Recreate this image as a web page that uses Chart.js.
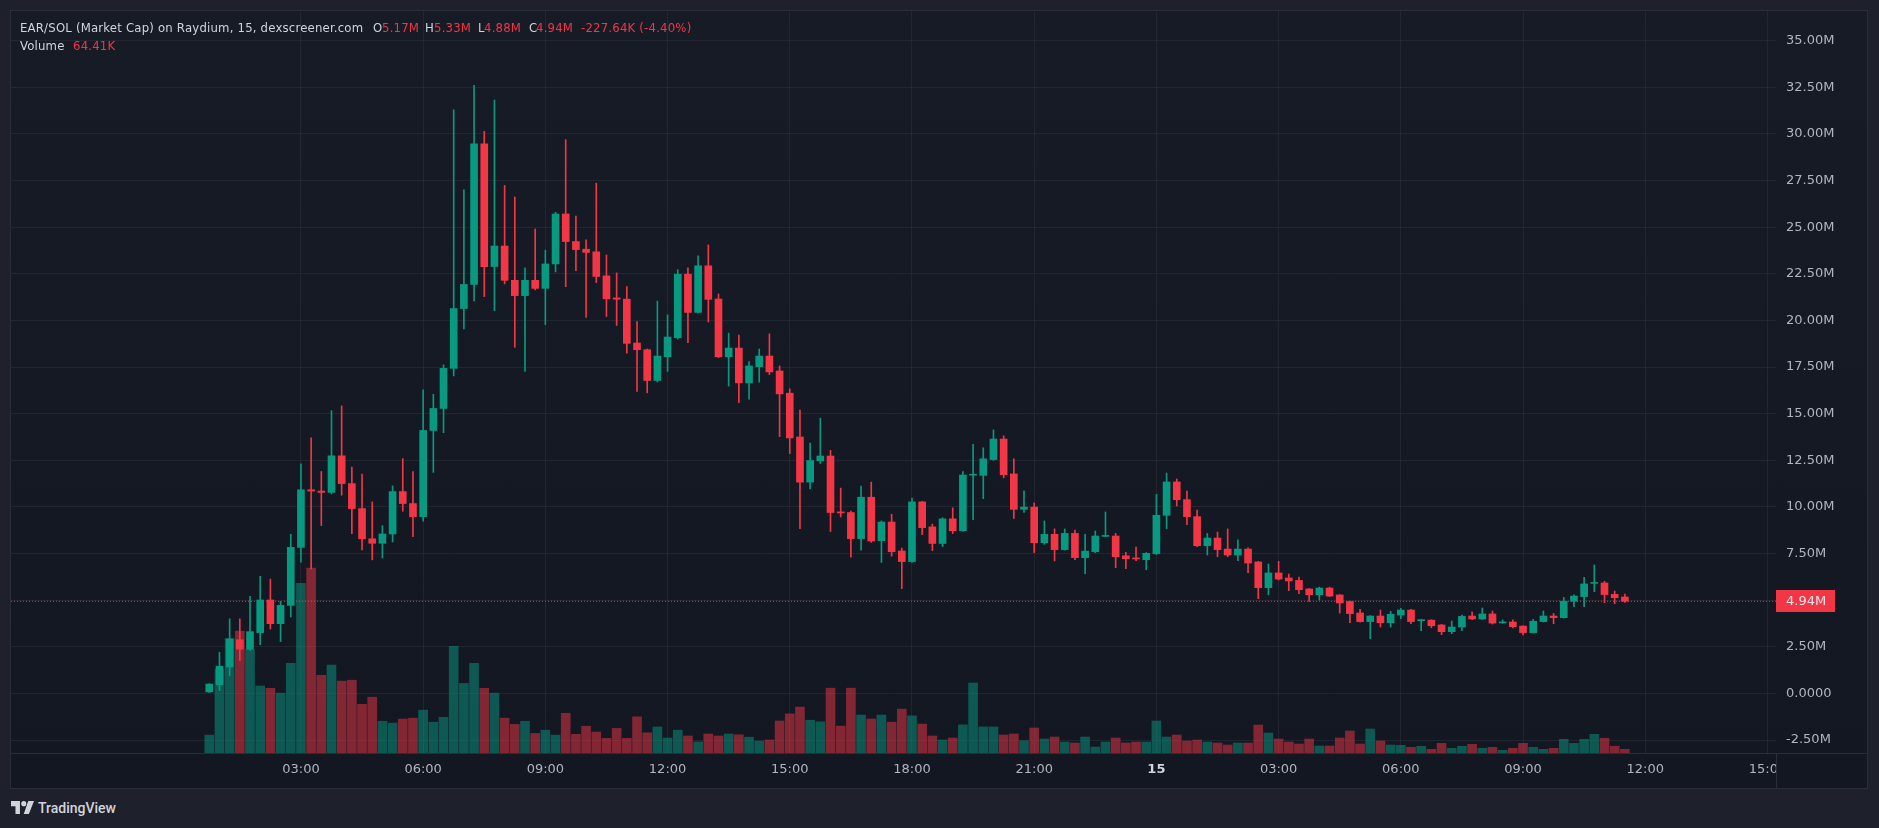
<!DOCTYPE html>
<html>
<head>
<meta charset="utf-8">
<script src="https://cdn.jsdelivr.net/npm/chart.js@4.4.1/dist/chart.umd.min.js"></script>
<style>
  html, body { margin: 0; padding: 0; width: 1879px; height: 828px; overflow: hidden; background: #1e212b; }
  #box { position: absolute; left: 10px; top: 10px; width: 1856px; height: 777px; border: 1px solid #2a2e39;
         background: linear-gradient(#171b26, #131722); }
  #box canvas { position: absolute; left: 0; top: 0; }
  .hdr { position: absolute; font-family: "DejaVu Sans Condensed", "DejaVu Sans", sans-serif; font-size: 13px;
         color: #d1d4dc; white-space: nowrap; line-height: 16px; z-index: 2; letter-spacing: 0.2px; }
  .red { color: #f23645; }
  #logo { position: absolute; left: 11px; top: 801px; }
  #logoText { position: absolute; left: 38px; top: 799px; font-family: Roboto, sans-serif; font-weight: 500;
              font-size: 14px; color: #d1d4dc; line-height: 18px; }
</style>
</head>
<body>
<div id="box"><canvas id="chart" width="1856" height="777"></canvas></div>

<div class="hdr" style="left:20px;top:20px">EAR/SOL (Market Cap) on Raydium, 15, dexscreener.com</div>
<div class="hdr" style="left:373px;top:20px">O</div><div class="hdr red" style="left:382px;top:20px">5.17M</div>
<div class="hdr" style="left:425px;top:20px">H</div><div class="hdr red" style="left:434px;top:20px">5.33M</div>
<div class="hdr" style="left:478px;top:20px">L</div><div class="hdr red" style="left:484px;top:20px">4.88M</div>
<div class="hdr" style="left:529px;top:20px">C</div><div class="hdr red" style="left:536px;top:20px">4.94M</div>
<div class="hdr red" style="left:581px;top:20px">-227.64K (-4.40%)</div>
<div class="hdr" style="left:20px;top:38px">Volume</div><div class="hdr red" style="left:73px;top:38px">64.41K</div>

<svg id="logo" width="23" height="13" viewBox="0 0 36 20">
  <path d="M14 20H7V8H0V0h14z" fill="#d1d4dc"/>
  <circle cx="20" cy="4" r="4" fill="#d1d4dc"/>
  <path d="M27 0h9l-8 20h-8z" fill="#d1d4dc"/>
</svg>
<div id="logoText">TradingView</div>

<script>
// 15 min candles, index 0 = 00:45 on day one (market cap in millions)
const opens = [
  0.08, 0.46, 1.42, 2.88, 2.37, 3.26, 5.01, 3.74, 4.72, 7.83,
  10.92, 10.85, 10.78, 12.74, 11.25, 9.91, 8.29, 8.05, 8.55, 10.82,
  10.18, 9.48, 14.10, 15.28, 17.43, 20.64, 21.93, 29.47, 22.89, 23.99,
  22.15, 21.33, 22.15, 21.72, 23.03, 25.71, 24.23, 23.82, 23.68, 22.39,
  21.21, 21.14, 18.79, 18.43, 16.78, 18.05, 19.07, 22.48, 20.43, 22.93,
  21.15, 18.05, 18.52, 16.65, 17.52, 18.09, 17.29, 16.10, 13.75, 11.33,
  12.47, 12.73, 9.72, 9.70, 8.30, 10.52, 8.19, 9.19, 7.64, 7.07,
  10.27, 8.93, 8.04, 9.36, 8.72, 11.70, 11.69, 12.54, 13.64, 11.77,
  9.87, 9.99, 8.08, 8.53, 7.71, 8.58, 7.28, 7.60, 8.42, 8.44,
  7.38, 7.26, 7.17, 7.49, 9.55, 11.34, 10.39, 9.48, 7.92, 8.33,
  7.74, 7.42, 7.74, 7.05, 5.67, 6.46, 6.19, 6.06, 5.60, 5.29,
  5.65, 5.28, 4.93, 4.31, 3.85, 4.15, 3.79, 4.20, 4.47, 3.90,
  3.93, 3.67, 3.31, 3.56, 4.15, 3.99, 4.26, 3.78, 3.83, 3.61,
  3.26, 3.85, 4.15, 4.06, 4.94, 5.19, 5.90, 5.92, 5.31, 5.17
];
const highs = [
  0.52, 2.20, 4.00, 4.00, 5.20, 6.28, 6.13, 4.93, 8.53, 12.31,
  13.70, 11.90, 15.16, 15.42, 12.14, 11.76, 10.27, 9.00, 11.13, 12.59,
  11.90, 16.28, 16.04, 17.62, 31.29, 27.01, 32.61, 30.14, 31.82, 27.24,
  26.62, 22.82, 24.90, 23.77, 25.80, 29.69, 25.59, 24.32, 27.36, 23.51,
  22.55, 21.81, 19.94, 18.47, 21.04, 20.30, 22.72, 22.82, 23.46, 24.05,
  21.42, 19.32, 19.22, 17.80, 18.47, 19.28, 17.56, 16.33, 15.19, 13.43,
  14.76, 13.03, 11.01, 9.78, 11.12, 11.33, 9.25, 9.61, 7.79, 10.48,
  10.30, 9.08, 9.42, 9.95, 11.90, 13.36, 13.17, 14.13, 13.81, 12.58,
  10.86, 10.21, 9.25, 8.82, 8.82, 8.76, 8.53, 8.71, 9.73, 8.58,
  7.56, 7.85, 7.55, 10.67, 11.82, 11.50, 10.85, 9.83, 8.58, 8.65,
  8.82, 8.24, 7.81, 7.08, 6.94, 7.08, 6.40, 6.24, 5.62, 5.70,
  5.70, 5.30, 4.95, 4.51, 4.17, 4.47, 4.40, 4.56, 4.51, 3.97,
  3.95, 3.70, 3.88, 4.20, 4.37, 4.58, 4.42, 3.94, 3.94, 3.63,
  3.97, 4.42, 4.29, 5.15, 5.28, 6.22, 6.89, 6.01, 5.49, 5.33
];
const lows = [
  0.05, 0.15, 0.94, 1.77, 2.30, 2.61, 3.45, 2.78, 4.10, 7.04,
  6.68, 9.00, 10.70, 10.63, 8.57, 7.69, 7.16, 7.26, 8.12, 9.77,
  8.41, 9.24, 11.85, 13.98, 17.02, 19.54, 21.05, 21.28, 20.52, 21.96,
  18.56, 17.26, 21.64, 19.78, 22.60, 21.81, 22.67, 20.16, 22.03, 20.21,
  19.73, 18.24, 16.19, 16.12, 16.70, 17.27, 19.00, 18.81, 20.40, 19.92,
  18.00, 16.48, 15.59, 15.78, 16.69, 17.10, 13.77, 12.86, 8.83, 10.97,
  12.33, 8.68, 9.46, 7.30, 7.68, 8.10, 7.02, 7.36, 5.62, 7.02,
  8.51, 7.66, 7.87, 8.57, 8.70, 9.31, 10.44, 12.50, 11.56, 9.38,
  9.70, 7.55, 8.00, 7.10, 7.68, 7.17, 6.42, 7.55, 8.40, 6.74,
  6.69, 7.12, 6.63, 7.45, 8.83, 10.05, 9.05, 7.87, 7.42, 7.33,
  7.33, 7.12, 6.47, 5.08, 5.29, 6.08, 5.51, 5.35, 4.93, 5.01,
  5.19, 4.31, 3.79, 3.82, 2.93, 3.56, 3.56, 4.01, 3.74, 3.36,
  3.52, 3.15, 3.20, 3.36, 3.95, 3.97, 3.72, 3.76, 3.51, 3.13,
  3.24, 3.83, 3.74, 4.04, 4.65, 4.65, 5.46, 4.87, 4.81, 4.88
];
const closes = [
  0.50, 1.46, 2.90, 2.37, 3.31, 5.01, 3.74, 4.72, 7.83, 10.92,
  10.85, 10.78, 12.74, 11.25, 9.91, 8.29, 8.05, 8.55, 10.82, 10.18,
  9.48, 14.10, 15.28, 17.43, 20.64, 21.93, 29.47, 22.89, 23.99, 22.15,
  21.33, 22.15, 21.72, 23.03, 25.71, 24.23, 23.80, 23.65, 22.36, 21.16,
  21.14, 18.77, 18.43, 16.78, 18.09, 19.11, 22.48, 20.43, 22.93, 21.13,
  18.05, 18.52, 16.65, 17.56, 18.09, 17.24, 16.06, 13.70, 11.33, 12.49,
  12.73, 9.70, 9.68, 8.30, 10.52, 8.17, 9.19, 7.60, 7.07, 10.27,
  8.89, 8.04, 9.36, 8.72, 11.71, 11.74, 12.58, 13.64, 11.73, 9.87,
  9.99, 8.08, 8.53, 7.71, 8.58, 7.28, 7.63, 8.44, 8.46, 7.33,
  7.22, 7.21, 7.51, 9.55, 11.34, 10.39, 9.48, 7.92, 8.33, 7.71,
  7.42, 7.74, 6.99, 5.67, 6.46, 6.13, 6.03, 5.56, 5.29, 5.65,
  5.22, 4.85, 4.28, 3.85, 4.15, 3.79, 4.24, 4.47, 3.85, 3.94,
  3.63, 3.31, 3.56, 4.13, 3.99, 4.26, 3.77, 3.83, 3.58, 3.26,
  3.87, 4.15, 4.06, 4.94, 5.22, 5.87, 5.94, 5.30, 5.13, 4.94
];
// volume in thousands
const volumes = [
  311, 1453, 1996, 2121, 1803, 1166, 1126, 1041, 1561, 2951,
  3216, 1352, 1529, 1251, 1267, 847, 971, 552, 520, 590,
  606, 746, 536, 621, 1857, 1211, 1561, 1126, 1041, 606,
  498, 552, 341, 397, 311, 691, 325, 466, 365, 256,
  428, 256, 630, 351, 454, 261, 398, 296, 193, 331,
  296, 331, 317, 275, 207, 226, 557, 680, 799, 571,
  543, 1128, 468, 1128, 661, 592, 661, 536, 764, 647,
  503, 296, 226, 261, 489, 1218, 454, 454, 313, 331,
  214, 435, 244, 278, 191, 174, 278, 104, 191, 261,
  174, 191, 191, 557, 278, 313, 209, 226, 191, 174,
  139, 174, 174, 487, 348, 244, 191, 157, 244, 122,
  122, 261, 383, 157, 418, 209, 139, 134, 99, 117,
  64, 169, 82, 117, 151, 82, 99, 47, 82, 169,
  99, 64, 82, 238, 169, 238, 325, 256, 117, 64.41
];

const priceTicks = [-2.5, 0, 2.5, 5, 7.5, 10, 12.5, 15, 17.5, 20, 22.5, 25, 27.5, 30, 32.5, 35];
const timeTickPos = [9, 21, 33, 45, 57, 69, 81, 93, 105, 117, 129, 141, 153];
const timeTickLabels = ["03:00", "06:00", "09:00", "12:00", "15:00", "18:00", "21:00", "15", "03:00", "06:00", "09:00", "12:00", "15:00"];
const lastPrice = 4.94;

const UP = "#089981";
const DOWN = "#f23645";
const GRID = "rgba(42, 46, 57, 0.6)";
const TEXT = "#b2b5be";

const xMin = -19.47, xMax = 153.84;

let upFlags = closes.map((c, i) => c >= opens[i]);
let candleColors = upFlags.map(u => u ? UP : DOWN);
let volColors = upFlags.map(u => u ? "rgba(8, 153, 129, 0.5)" : "rgba(242, 54, 69, 0.5)");

let bodies = opens.map((o, i) => ({ x: i, y: [o, closes[i]] }));
let wicks = lows.map((l, i) => ({ x: i, y: [l, highs[i]] }));
let vols = volumes.map((v, i) => ({ x: i, y: v }));

function priceLabel(v) {
    if (v === 0) return "0.0000";
    if (v === 5) return "";
    return v.toFixed(2) + "M";
}

const overlay = {
    id: "overlay",
    afterDraw(chart) {
        const ctx = chart.ctx;
        const area = chart.chartArea;
        const w = chart.width, h = chart.height;
        ctx.save();
        // cut the time labels off under the price scale
        ctx.clearRect(area.right + 0.5, area.bottom + 1, w - area.right, h - area.bottom);
        ctx.fillStyle = "#2a2e39";
        ctx.fillRect(0, Math.round(area.bottom), w, 1);
        ctx.fillRect(Math.round(area.right), Math.round(area.bottom), 1, h - area.bottom);

        // last price tag
        const y = chart.scales.y.getPixelForValue(lastPrice);
        ctx.fillStyle = DOWN;
        ctx.fillRect(area.right, Math.round(y) - 11, 59, 22);
        ctx.fillStyle = "#e6e7ea";
        ctx.font = "13px 'DejaVu Sans'";
        ctx.textBaseline = "middle";
        ctx.textAlign = "left";
        ctx.fillText(lastPrice.toFixed(2) + "M", area.right + 10, Math.round(y) + 0.5);
        ctx.restore();
    }
};

const chart = new Chart(document.getElementById("chart").getContext("2d"), {
    type: "bar",
    data: {
        datasets: [
            {
                label: "body",
                data: bodies,
                backgroundColor: candleColors,
                barThickness: 7,
                minBarLength: 1,
                grouped: false,
                order: 0
            },
            {
                label: "wick",
                data: wicks,
                backgroundColor: candleColors,
                barThickness: 1,
                grouped: false,
                order: 1
            },
            {
                type: "line",
                label: "last",
                data: [{ x: xMin, y: lastPrice }, { x: xMax, y: lastPrice }],
                borderColor: DOWN,
                borderWidth: 1,
                borderDash: [1, 2],
                pointRadius: 0,
                order: 2
            },
            {
                label: "volume",
                data: vols,
                yAxisID: "v",
                backgroundColor: volColors,
                barThickness: 9,
                grouped: false,
                order: 3
            }
        ]
    },
    options: {
        responsive: false,
        maintainAspectRatio: false,
        animation: false,
        events: [],
        layout: { padding: 0 },
        plugins: {
            legend: { display: false },
            tooltip: { enabled: false }
        },
        scales: {
            x: {
                type: "linear",
                min: xMin,
                max: xMax,
                offset: false,
                afterBuildTicks: s => { s.ticks = timeTickPos.map(v => ({ value: v })); },
                afterFit: s => { s.height = 35; s.paddingLeft = 0; s.paddingRight = 0; },
                grid: { color: GRID, drawTicks: false, offset: false },
                border: { display: false },
                ticks: {
                    autoSkip: false,
                    maxRotation: 0,
                    padding: 9,
                    color: c => (c.tick && c.tick.value === 93) ? "#d1d4dc" : TEXT,
                    font: c => ({
                        family: "DejaVu Sans",
                        size: 13,
                        weight: (c.tick && c.tick.value === 93) ? "bold" : "normal"
                    }),
                    callback: (v, i) => timeTickLabels[i]
                }
            },
            y: {
                position: "right",
                min: -3.196,
                max: 36.594,
                afterBuildTicks: s => { s.ticks = priceTicks.map(v => ({ value: v })); },
                afterFit: s => { s.width = 91; s.paddingTop = 0; s.paddingBottom = 0; },
                grid: { color: GRID, drawTicks: false },
                border: { display: false },
                ticks: {
                    padding: 10,
                    color: TEXT,
                    font: { family: "DejaVu Sans", size: 13 },
                    callback: v => priceLabel(v)
                }
            },
            v: {
                display: false,
                min: 0,
                max: 12911
            }
        }
    },
    plugins: [overlay]
});
</script>
</body>
</html>
